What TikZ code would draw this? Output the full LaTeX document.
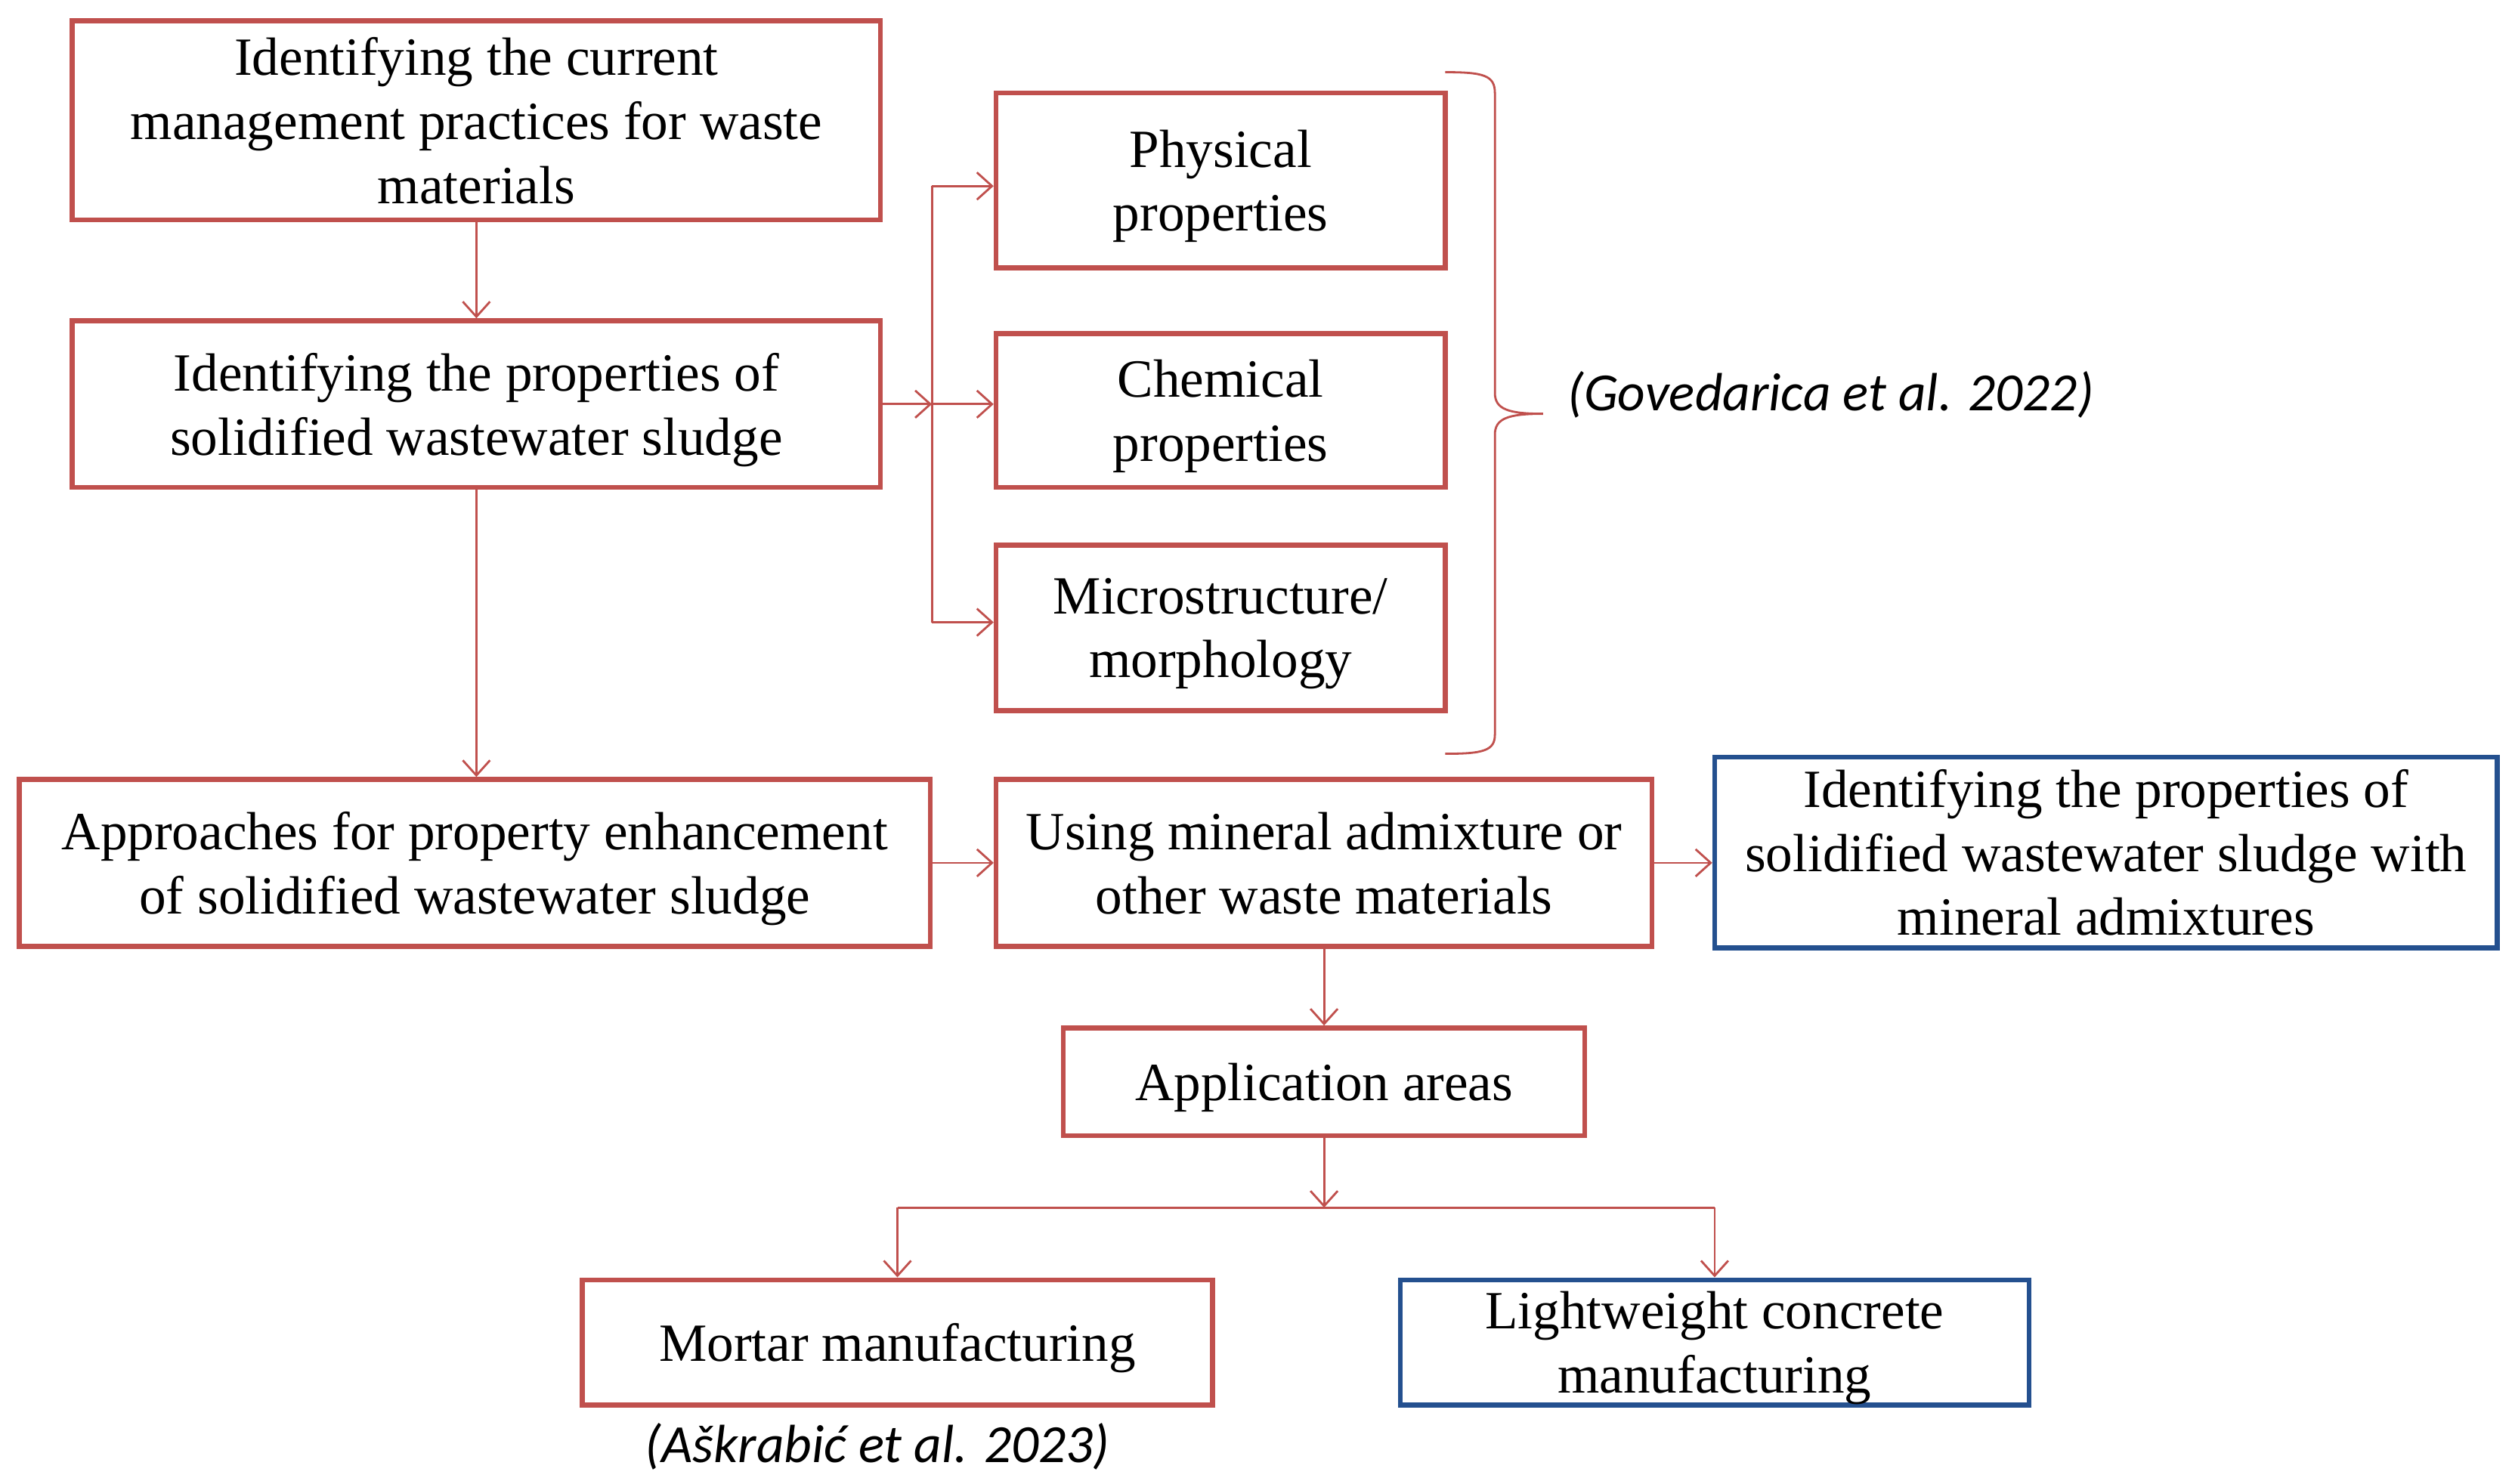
\documentclass[tikz,border=0pt]{standalone}
\usepackage{fontspec}
\setmainfont{Liberation Serif}
\newfontfamily\citefont{Carlito}
\usetikzlibrary{arrows.meta}
\definecolor{boxred}{HTML}{C0504D}
\definecolor{boxblue}{HTML}{24508F}
\begin{document}
\begin{tikzpicture}[x=0.5306pt,y=-0.5306pt,
 box/.style={draw=boxred, line width=1.6pt, align=center, fill=white,
   font=\fontsize{17.8}{21.2}\selectfont, inner sep=0pt, text depth=0pt},
 bluebox/.style={box, draw=boxblue},
 conn/.style={draw=boxred, line width=0.7pt},
 arr/.style={conn, -{Straight Barb[length=5pt,width=9pt]}},
 cite/.style={font=\citefont\itshape\fontsize{17.8}{20}\selectfont, inner sep=0pt},
]
\useasboundingbox (0,0) rectangle (1568,925);
\node[box, minimum width=267.4pt, minimum height=65.8pt] (b1) at (297,75)
  {Identifying the current\\management practices for waste\\materials};
\node[box, minimum width=267.4pt, minimum height=55.2pt] (b2) at (297,252)
  {Identifying the properties of\\solidified wastewater sludge};
\node[box, minimum width=148.6pt, minimum height=57.8pt] (phys) at (761,112.5)
  {Physical\\properties};
\node[box, minimum width=148.6pt, minimum height=50.9pt] (chem) at (761,256)
  {Chemical\\properties};
\node[box, minimum width=148.6pt, minimum height=54.7pt] (micro) at (761,391.5)
  {Microstructure/\\morphology};
\node[box, minimum width=301.4pt, minimum height=55.2pt] (ap) at (296,538)
  {Approaches for property enhancement\\of solidified wastewater sludge};
\node[box, minimum width=217.0pt, minimum height=55.2pt] (us) at (825.5,538)
  {Using mineral admixture or\\other waste materials};
\node[bluebox, minimum width=258.9pt, minimum height=63.1pt] (bl) at (1313,531.5)
  {Identifying the properties of\\solidified wastewater sludge with\\mineral admixtures};
\node[box, minimum width=172.4pt, minimum height=35.6pt] (app) at (825.5,674.5)
  {Application areas};
\node[box, minimum width=208.5pt, minimum height=41.4pt] (mo) at (559.5,837)
  {Mortar manufacturing};
\node[bluebox, minimum width=208.0pt, minimum height=41.4pt] (lw) at (1069,837)
  {Lightweight concrete\\manufacturing};
\node[cite, anchor=west] (gov) at (977,246) {(Govedarica et al. 2022)};
\node[cite] (ask) at (547,902) {(Aškrabić et al. 2023)};
% brace
\draw[conn] (901,45) .. controls (925,45) and (932,47) .. (932,58) -- (932,245)
  .. controls (932,255) and (940,258) .. (962,258)
  .. controls (940,258) and (932,261) .. (932,271) -- (932,458)
  .. controls (932,468) and (925,470) .. (901,470);
% connectors
\draw[arr] (b1.south) -- (b2.north);
\draw[arr] (b2.south) -- (b2.south |- ap.north);
\coordinate (sp) at (581,252);
\coordinate (spt) at (581,116);
\coordinate (spb) at (581,388);
\draw[arr] (b2.east |- sp) -- (sp);
\draw[arr] (sp) -- (sp -| chem.west);
\draw[conn] (spt) -- (spb);
\draw[arr] (spt) -- (spt -| phys.west);
\draw[arr] (spb) -- (spb -| micro.west);
\draw[arr] (ap.east) -- (us.west);
\draw[arr] (us.east) -- (us.east -| bl.west);
\draw[arr] (us.south) -- (app.north);
\coordinate (br) at (825.5,753);
\draw[arr] (app.south) -- (br);
\draw[conn] (mo.north |- br) -- (lw.north |- br);
\draw[arr] (mo.north |- br) -- (mo.north);
\draw[arr] (lw.north |- br) -- (lw.north);
\end{tikzpicture}
\end{document}
